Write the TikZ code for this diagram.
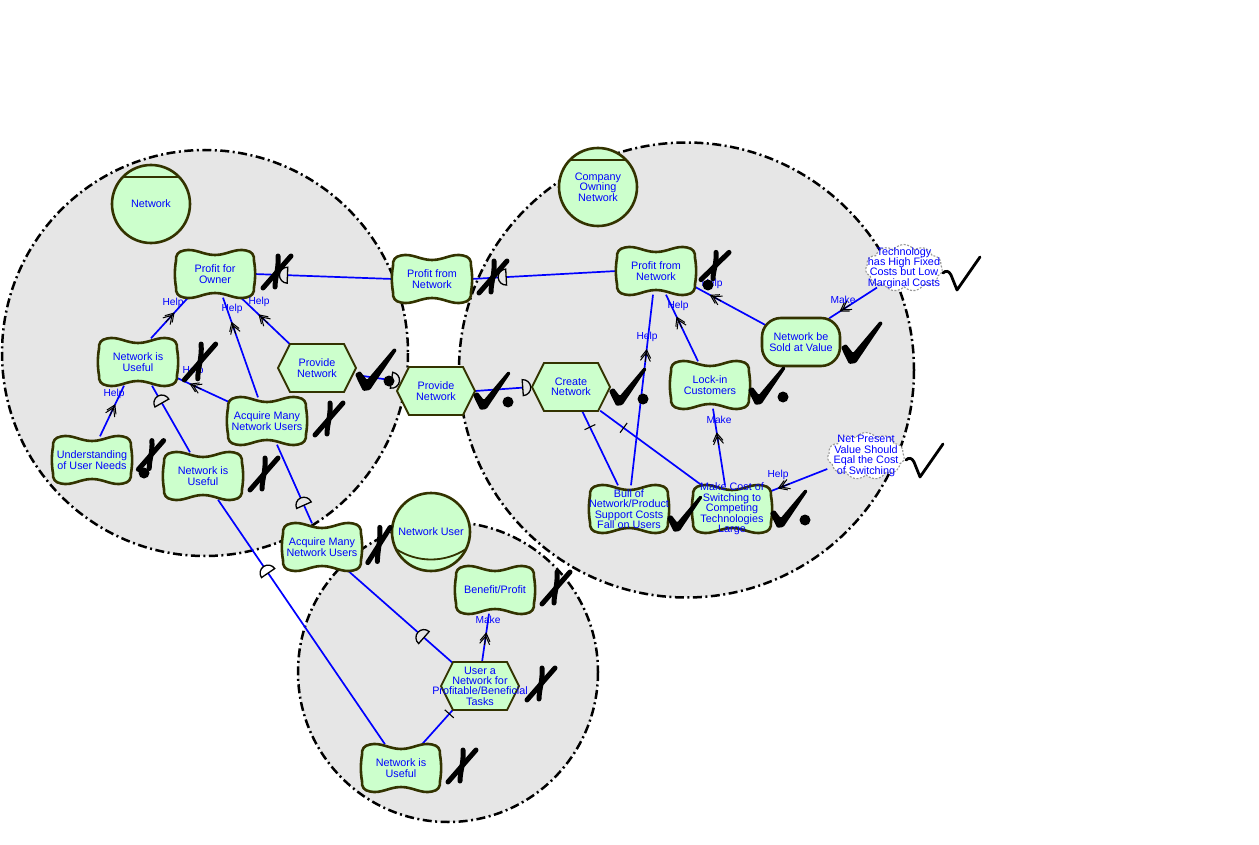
\documentclass[tikz,border=0pt]{standalone}
\usepackage{fontspec}
\setmainfont{Liberation Sans}
\usetikzlibrary{shapes.symbols,decorations.markings}

\definecolor{linkblue}{RGB}{0,0,255}
\definecolor{elemfill}{RGB}{204,255,204}
\definecolor{elemedge}{RGB}{51,51,0}
\definecolor{actorbg}{RGB}{230,230,230}
\definecolor{beliefedge}{RGB}{150,150,150}

\pgfdeclarelayer{bound}
\pgfdeclarelayer{links}
\pgfsetlayers{bound,links,main}

\tikzset{
  boundary/.style={fill=actorbg, draw=black, line width=2.5pt,
    dash pattern=on 9pt off 3.5pt on 2pt off 3.5pt},
  link/.style={draw=linkblue, line width=1.7pt},
  txt/.style={text=linkblue, font=\fontsize{10.8}{10.4}\selectfont, align=center, inner sep=0pt},
  lbl/.style={text=linkblue, font=\fontsize{10.2}{10}\selectfont, inner sep=0pt},
  elembox/.style={rectangle, inner sep=0pt, minimum width=78pt, minimum height=47pt},
  beliefshape/.style={cloud, cloud puffs=11, cloud puff arc=110, aspect=1.6,
    minimum width=77pt, minimum height=47pt, inner sep=0pt, fill=white,
    draw=beliefedge, line width=1.1pt, dash pattern=on 2pt off 1.5pt},
  % dependency "D" marks, bulging back towards the start of the link or forwards
  depback/.style={postaction={decorate, decoration={markings, mark=at position #1 with
    {\draw[fill=actorbg, draw=black, line width=1.3pt] (0,-8) arc[start angle=-90, end angle=-270, radius=8] -- cycle;}}}},
  depbackw/.style={postaction={decorate, decoration={markings, mark=at position #1 with
    {\draw[fill=white, draw=black, line width=1.3pt] (0,-8) arc[start angle=-90, end angle=-270, radius=8] -- cycle;}}}},
  depfwd/.style={postaction={decorate, decoration={markings, mark=at position #1 with
    {\draw[fill=actorbg, draw=black, line width=1.3pt] (0,-8) arc[start angle=-90, end angle=90, radius=8] -- cycle;}}}},
  % contribution arrowhead and decomposition bar
  contrib/.style={postaction={decorate, decoration={markings, mark=at position #1 with
    {\draw[black, line width=1pt] (-8,-5) -- (0,0) -- (-8,5) (-11,-5) -- (-3,0) -- (-11,5) (-12,0) -- (0,0);}}}},
  decomp/.style={postaction={decorate, decoration={markings, mark=at position #1 with
    {\draw[black, line width=1.1pt] (0,-6) -- (0,6);}}}},
  pics/pillow/.style={code={
    \path[fill=elemfill, draw=elemedge, line width=2.6pt]
      (-31,-23.5) .. controls (-20,-26) and (-12,-19) .. (0,-19)
      .. controls (12,-19) and (20,-26) .. (31,-23.5)
      .. controls (37,-22.5) and (39.5,-19) .. (39,-13)
      .. controls (40.5,-5) and (40.5,5) .. (39,13)
      .. controls (39.5,19) and (37,22.5) .. (31,23.5)
      .. controls (20,26) and (12,19) .. (0,19)
      .. controls (-12,19) and (-20,26) .. (-31,23.5)
      .. controls (-37,22.5) and (-39.5,19) .. (-39,13)
      .. controls (-40.5,5) and (-40.5,-5) .. (-39,-13)
      .. controls (-39.5,-19) and (-37,-22.5) .. cycle;}},
  pics/hexa/.style={code={
    \path[fill=elemfill, draw=elemedge, line width=1.8pt]
      (-39,0) -- (-27,-24) -- (27,-24) -- (39,0) -- (27,24) -- (-27,24) -- cycle;}},
  pics/goalbox/.style={code={
    \path[fill=elemfill, draw=elemedge, line width=2.6pt, rounded corners=19pt]
      (-39,-24) rectangle (39,24);}},
  pics/agent/.style={code={
    \path[fill=elemfill, draw=elemedge, line width=2.6pt] (0,0) circle[radius=39];
    \draw[elemedge, line width=1.8pt] (-28,-27) -- (28,-27);}},
  pics/role/.style={code={
    \path[fill=elemfill, draw=elemedge, line width=2.6pt] (0,0) circle[radius=39];
    \draw[elemedge, line width=1.8pt] (-35,17) .. controls (-14,31) and (14,31) .. (35,17);}},
  % evaluation labels
  pics/xmark/.style={code={
    \draw[black, line width=5pt, line cap=round] (-14,16) -- (14,-16);
    \draw[black, line width=5pt, line cap=round] (1,-16) .. controls (2,-4) and (-2,6) .. (-2,15);}},
  pics/chk/.style={code={
    \fill[black, rounded corners=1.2pt] (-20,4) -- (-15,1) -- (-8,10) -- (19,-22) -- (22,-20)
      -- (-5,20) -- (-12,21) -- (-17,11) -- cycle;}},
  pics/thinchk/.style={code={
    \draw[black, line width=2.8pt, line join=round, line cap=round]
      (-18,-1) .. controls (-15,-4) and (-12,-3) .. (-10,1) -- (-4,16) -- (19,-17);}},
  pics/evaldot/.style={code={\fill[black] (0,0) circle[radius=5.5];}},
}

\newcommand\softgoal[4]{\pic at (#2,#3) {pillow};
  \node[elembox] (#1) at (#2,#3) {}; \node[txt] (#1-t) at (#2,#3) {#4};}
\newcommand\tasknode[4]{\pic at (#2,#3) {hexa};
  \node[elembox] (#1) at (#2,#3) {}; \node[txt] (#1-t) at (#2,#3) {#4};}
\newcommand\goalnode[4]{\pic at (#2,#3) {goalbox};
  \node[elembox] (#1) at (#2,#3) {}; \node[txt] (#1-t) at (#2,#3) {#4};}
\newcommand\beliefnode[4]{\node[beliefshape] (#1) at (#2,#3) {};
  \node[txt] (#1-t) at (#2,#3) {#4};}
\newcommand\agentnode[4]{\pic at (#2,#3) {agent};
  \node[circle, minimum size=78pt, inner sep=0pt] (#1) at (#2,#3) {};
  \node[txt] (#1-t) at (#2,#3) {#4};}
\newcommand\rolenode[4]{\pic at (#2,#3) {role};
  \node[circle, minimum size=78pt, inner sep=0pt] (#1) at (#2,#3) {};
  \node[txt] (#1-t) at (#2,#3) {#4};}

\begin{document}
\begin{tikzpicture}[x=1pt, y=-1pt]
\useasboundingbox (0,0) rectangle (1259,845);

% actor boundaries
\begin{pgfonlayer}{bound}
  \path[boundary] (205,353) circle[radius=203];
  \path[boundary] (686.5,370) circle[radius=227.5];
  \path[boundary] (448,672) circle[radius=150];
\end{pgfonlayer}

% actors
\agentnode{netw}{151}{204}{Network}
\agentnode{cown}{598}{187}{Company\\Owning\\Network}
\rolenode{nuser}{431}{532}{Network User}

% Network
\softgoal{pfo}{215}{274}{Profit for\\Owner}
\softgoal{nu1}{138}{362}{Network is\\Useful}
\tasknode{pnn}{317}{368}{Provide\\Network}
\softgoal{amnn}{267}{421}{Acquire Many\\Network Users}
\softgoal{uun}{92}{460}{Understanding\\of User Needs}
\softgoal{nu2}{203}{476}{Network is\\Useful}

% dependums
\softgoal{pfnd}{432}{279}{Profit from\\Network}
\tasknode{pnd}{436}{391}{Provide\\Network}
\softgoal{amnd}{322}{547}{Acquire Many\\Network Users}

% Company Owning Network
\softgoal{pfnc}{656}{271}{Profit from\\Network}
\tasknode{cn}{571}{387}{Create\\Network}
\goalnode{nbsv}{801}{342}{Network be\\Sold at Value}
\softgoal{lic}{710}{385}{Lock-in\\Customers}
\softgoal{bull}{629}{509}{Bull of\\Network/Product\\Support Costs\\Fall on Users}
\softgoal{mcs}{732}{509}{Make Cost of\\Switching to\\Competing\\Technologies\\Large}
\beliefnode{tech}{904}{268}{Technology\\has High Fixed\\Costs but Low\\Marginal Costs}
\beliefnode{npv}{866}{456}{Net Present\\Value Should\\Eqal the Cost\\of Switching}

% Network User
\softgoal{bp}{495}{590}{Benefit/Profit}
\tasknode{unt}{480}{686}{User a\\Network for\\Profitable/Beneficial\\Tasks}
\softgoal{nuu}{401}{768}{Network is\\Useful}

% links
\begin{pgfonlayer}{links}
  % dependencies
  \draw[link, depback=0.24] (pfo.east) -- (pfnd.west);
  \draw[link, depback=0.24] (pfnd.east) -- (pfnc.west);
  \draw[link, depfwd=0.87] ([yshift=-7pt]pnn.east) -- ([yshift=10pt]pnd.west);
  \draw[link, depfwd=0.84] (pnd.east) -- (cn.west);
  \draw[link, depback=0.77] ([xshift=10pt]amnn.south) -- ([xshift=-10pt]amnd.north);
  \draw[link, depback=0.73] ([xshift=26pt]amnd.south) -- ([xshift=-28pt]unt.north);
  \draw[link, depback=0.26] ([xshift=14pt]nu1.south) -- ([xshift=-13pt]nu2.north);
  \draw[link, depbackw=0.30] ([xshift=15pt]nu2.south) -- ([xshift=-16pt]nuu.north);
  % contributions
  \draw[link, contrib=0.62] ([xshift=13pt]nu1.north) -- ([xshift=-27pt]pfo.south);
  \draw[link, contrib=0.75] ([xshift=-9pt]amnn.north) -- ([xshift=8pt]pfo.south);
  \draw[link, contrib=0.63] ([xshift=-27pt]pnn.north) -- ([xshift=26pt]pfo.south);
  \draw[link, contrib=0.76] ([xshift=4pt,yshift=-6pt]amnn.north west) -- ([yshift=-16pt]nu1.east);
  \draw[link, contrib=0.62] ([xshift=8pt]uun.north) -- ([xshift=-14pt]nu1.south);
  \draw[link, contrib=0.66] ([xshift=-12pt]lic.north) -- ([xshift=10pt]pfnc.south);
  \draw[link, contrib=0.79] ([xshift=6pt,yshift=-8pt]nbsv.north west) -- ([yshift=-16pt]pfnc.east);
  \draw[link, contrib=0.71] ([xshift=2pt]bull.north) -- ([xshift=-3pt]pfnc.south);
  \draw[link, contrib=0.68] ([xshift=-7pt]mcs.north) -- ([xshift=3pt]lic.south);
  \draw[link, contrib=0.77] ([xshift=-27pt]tech.south) -- ([xshift=-11pt]nbsv.north east);
  \draw[link, contrib=0.87] ([yshift=-13pt]npv.west) -- ([yshift=18pt]mcs.east);
  \draw[link, contrib=0.60] ([xshift=2pt]unt.north) -- ([xshift=-6pt]bp.south);
  % decompositions
  \draw[link, decomp=0.22] ([xshift=11pt]cn.south) -- ([xshift=-11pt]bull.north);
  \draw[link, decomp=0.23] ([xshift=-10pt]cn.south east) -- ([xshift=9pt]mcs.north west);
  \draw[link, decomp=0.12] ([xshift=-27pt]unt.south) -- ([xshift=21pt]nuu.north);
\end{pgfonlayer}

% link labels
\node[lbl] (h1) at (173,303) {Help};
\node[lbl] (h2) at (232,309) {Help};
\node[lbl] (h3) at (259,302) {Help};
\node[lbl] (h4) at (193,371) {Help};
\node[lbl] (h5) at (114,394) {Help};
\node[lbl] (h6) at (678,306) {Help};
\node[lbl] (h7) at (712,284) {Help};
\node[lbl] (h8) at (647,337) {Help};
\node[lbl] (m1) at (719,420) {Make};
\node[lbl] (m2) at (843,300) {Make};
\node[lbl] (h9) at (778,475) {Help};
\node[lbl] (m3) at (488,620) {Make};

% evaluation labels
\pic at (277,272) {xmark};
\pic[scale=1.12] at (200,362) {xmark};
\pic at (329,419) {xmark};
\pic[scale=0.9] at (151,455) {xmark}; \pic at (144,473) {evaldot};
\pic at (264,474) {xmark};
\pic[xscale=0.8, yscale=1.1] at (379,545) {xmark};
\pic at (493,277) {xmark};
\pic[yscale=0.85] at (715,266) {xmark}; \pic at (708,285) {evaldot};
\pic at (556,588) {xmark};
\pic at (541,684) {xmark};
\pic at (462,766) {xmark};

\pic at (375,370) {chk}; \pic at (389,381) {evaldot};
\pic[scale=0.9] at (491,391) {chk}; \pic at (508,402) {evaldot};
\pic[scale=0.9] at (627,387) {chk}; \pic at (643,399) {evaldot};
\pic at (861,343) {chk};
\pic[scale=0.9] at (766,386) {chk}; \pic at (783,397) {evaldot};
\pic[scale=0.85] at (684,514) {chk};
\pic[scale=0.9] at (788,509) {chk}; \pic at (805,520) {evaldot};
\pic at (961,274) {thinchk};
\pic at (924,461) {thinchk};
\end{tikzpicture}
\end{document}
